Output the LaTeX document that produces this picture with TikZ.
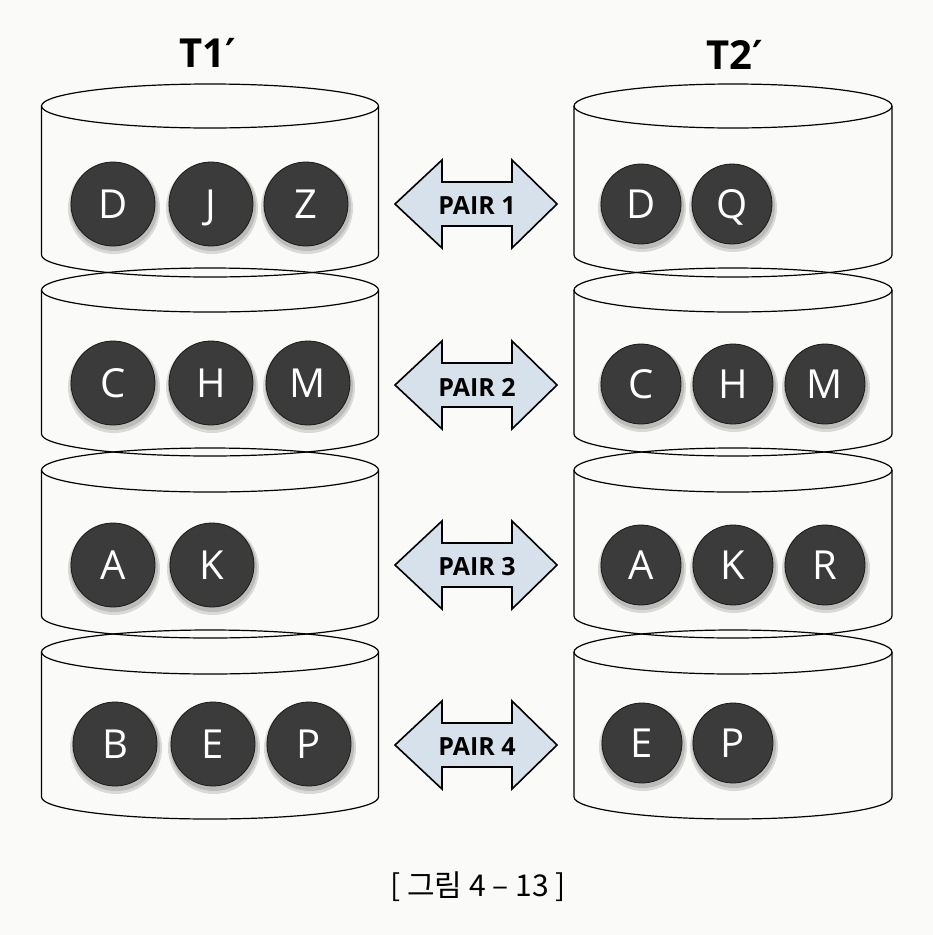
\documentclass[tikz,border=0pt]{standalone}
\usepackage{fontspec}
\setmainfont{Open Sans}
\newfontfamily\ballfont{Open Sans}
\newfontfamily\primefont{DejaVu Sans}
\newfontfamily\krfont{Noto Sans CJK KR}
\usetikzlibrary{calc}
\definecolor{arrowfill}{HTML}{D6E1EB}
\definecolor{ballfill}{HTML}{3B3B3B}
\definecolor{paper}{HTML}{FAFAF8}
\begin{document}
\begin{tikzpicture}[x=1pt,y=-1pt,
  cylline/.style={draw=black, line width=1.2pt},
  ballbase/.style={circle, fill=ballfill, draw=black!90, line width=0.8pt, inner sep=0pt,
    text=white, text height=29pt, text depth=0pt,
    font=\ballfont\fontsize{40}{40}\selectfont},
  ballL/.style={ballbase, minimum size=84pt},
  ballR/.style={ballbase, minimum size=80pt},
  ballshadow/.style={fill=black, opacity=0.13},
  pairlabel/.style={font=\bfseries\fontsize{25}{25}\selectfont, inner sep=0pt},
  arrowshape/.style={draw=black, line width=1.6pt, fill=arrowfill, line join=miter},
  titletext/.style={font=\bfseries\fontsize{40}{40}\selectfont, inner sep=0pt},
  captiontext/.style={font=\krfont\fontsize{30}{30}\selectfont, inner sep=0pt}
]
\useasboundingbox (0,0) rectangle (933,935);
\fill[paper] (0,0) rectangle (933,935);

% titles
\node[titletext] (t1) at (208,53) {T1{\primefont\bfseries ′}};
\node[titletext] (t2) at (735,55) {T2{\primefont\bfseries ′}};

% cylinders: cx, rx, top y, bottom y
\foreach \cx/\rx in {210/168.5, 733/159}{
  \foreach \yt/\yb in {106/255, 290/434, 470/616, 652/797}{
    \draw[cylline] (\cx-\rx,\yt) -- (\cx-\rx,\yb)
      arc[start angle=180, end angle=360, x radius=\rx pt, y radius=22pt]
      -- (\cx+\rx,\yt);
    \draw[cylline] (\cx,\yt) ellipse[x radius=\rx pt, y radius=22pt];
  }
}

% ball shadows
\foreach \x/\y in {113/204,211/204,306/204, 113/383,211/383,308/383, 113/565,212/565, 115/744,213/744,309/744}{
  \fill[ballshadow] (\x+1,\y+4) circle[radius=46pt];
  \fill[ballshadow] (\x+1,\y+3) circle[radius=44pt];
}
\foreach \x/\y in {641/204,732/204, 641/384,733/384,825/384, 641/565,733/565,825/565, 642/743,733/743}{
  \fill[ballshadow] (\x+1,\y+4) circle[radius=44pt];
  \fill[ballshadow] (\x+1,\y+3) circle[radius=42pt];
}

% left balls
\foreach \n/\x/\y/\t in {lD/113/204/D, lJ/211/204/J, lZ/306/204/Z,
  lC/113/383/C, lH/211/383/H, lM/308/383/M,
  lA/113/565/A, lK/212/565/K,
  lB/115/744/B, lE/213/744/E, lP/309/744/P}{
  \node[ballL] (\n) at (\x,\y) {\t};
}
% right balls
\foreach \n/\x/\y/\t in {rD/641/204/D, rQ/732/204/Q,
  rC/641/384/C, rH/733/384/H, rM/825/384/M,
  rA/641/565/A, rK/733/565/K, rR/825/565/R,
  rE/642/743/E, rP/733/743/P}{
  \node[ballR] (\n) at (\x,\y) {\t};
}

% pair arrows
\foreach \k/\yy in {1/204, 2/385, 3/565, 4/745}{
  \coordinate (a\k) at (476,\yy);
  \draw[arrowshape] ($(a\k)+(-81,0)$) -- ++(47,-44) -- ++(0,22) -- ++(70,0)
    -- ++(0,-22) -- ++(45,44) -- ++(-45,44) -- ++(0,-22) -- ++(-70,0)
    -- ++(0,22) -- cycle;
  \node[pairlabel] (p\k) at ($(a\k)+(1,2)$) {PAIR \k};
}

% caption
\node[captiontext] (cap) at (478,887) {[ 그림 4 – 13 ]};
\end{tikzpicture}
\end{document}
